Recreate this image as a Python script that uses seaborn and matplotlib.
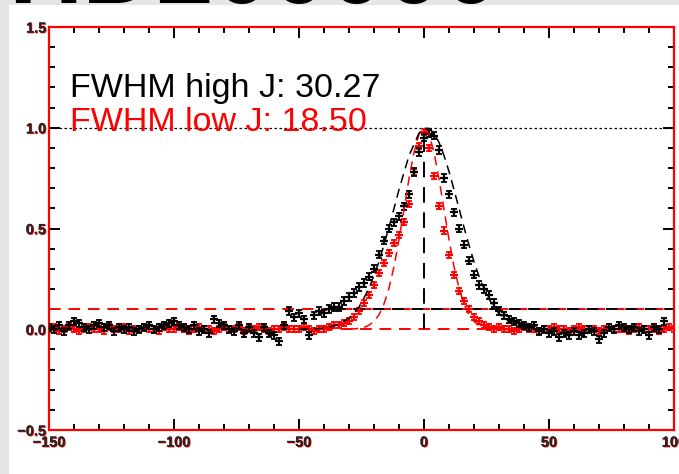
import numpy as np
import pandas as pd
import matplotlib
matplotlib.use("Agg")
import matplotlib.pyplot as plt
import matplotlib.patheffects as pe
from matplotlib.patches import Rectangle
from matplotlib.ticker import MultipleLocator
import seaborn as sns

sns.set_style("white")
plt.rcParams['font.family'] = ['Liberation Sans', 'DejaVu Sans']

# ---- data ----
high_x = list(range(-150, 98, 2))
high_y = [
    0.01, 0.00, 0.02, -0.01, 0.02, 0.04, 0.03, 0.01, 0.00, 0.02,
    0.03, 0.01, 0.02, -0.01, 0.01, 0.00, 0.01, -0.01, 0.00, 0.01,
    0.02, 0.00, 0.01, 0.02, 0.03, 0.04, 0.02, 0.01, 0.00, 0.02,
    -0.01, 0.00, -0.02, 0.05, 0.03, 0.02, 0.00, -0.01, 0.02, -0.02,
    0.01, -0.02, -0.04, 0.01, -0.02, -0.03, -0.06, 0.02, 0.09, 0.06,
    0.08, 0.05, -0.03, 0.07, 0.09, 0.08, 0.10, 0.11, 0.11, 0.14,
    0.16, 0.18, 0.21, 0.23, 0.26, 0.30, 0.37, 0.44, 0.50, 0.53,
    0.56, 0.61, 0.67, 0.78, 0.88, 0.95, 0.97, 0.96, 0.89, 0.75,
    0.67, 0.58, 0.50, 0.42, 0.34, 0.27, 0.22, 0.20, 0.17, 0.13,
    0.09, 0.07, 0.05, 0.04, 0.03, 0.02, 0.01, 0.02, -0.01, 0.00,
    -0.02, -0.01, -0.04, -0.02, -0.03, -0.01, -0.03, -0.02, 0.00, -0.01,
    -0.05, -0.02, 0.01, 0.00, 0.02, 0.01, 0.00, 0.01, -0.01, 0.00,
    -0.03, 0.01, 0.00, 0.04,
]
low_x = list(range(-150, 102, 2))
low_y = [
    0.00, 0.01, -0.01, 0.00, 0.01, 0.00, -0.01, 0.00, 0.01, 0.00,
    0.00, -0.01, 0.01, 0.00, 0.00, 0.01, -0.01, 0.00, 0.00, 0.01,
    0.00, 0.00, -0.01, 0.01, 0.00, 0.00, 0.01, 0.00, -0.01, 0.00,
    0.01, 0.00, 0.00, -0.01, 0.00, 0.01, 0.00, 0.00, 0.01, -0.01,
    0.00, 0.00, 0.01, 0.00, -0.01, 0.00, 0.00, 0.01, 0.00, 0.00,
    0.00, 0.01, 0.00, -0.01, 0.00, 0.00, 0.01, 0.02, 0.02, 0.03,
    0.04, 0.06, 0.09, 0.13, 0.17, 0.22, 0.28, 0.33, 0.38, 0.43,
    0.47, 0.53, 0.62, 0.78, 0.91, 0.98, 0.90, 0.76, 0.61, 0.49,
    0.37, 0.27, 0.19, 0.14, 0.10, 0.06, 0.04, 0.02, 0.01, 0.00,
    0.01, 0.00, 0.00, -0.01, 0.00, 0.01, 0.00, 0.00, -0.01, 0.00,
    0.00, 0.01, 0.00, 0.00, -0.01, 0.00, 0.01, 0.00, 0.00, 0.00,
    -0.01, 0.00, 0.01, 0.00, 0.00, 0.00, -0.01, 0.00, 0.01, 0.00,
    0.00, 0.00, -0.01, 0.00, 0.01, 0.00,
]
high_err = 0.018
low_err = 0.015

fit_high_x = [-50, -46, -42, -38, -34, -30, -26, -22, -18, -14, -10, -6, -2, 0, 2, 4, 6, 8,
              10, 12, 14, 16, 18, 20, 22, 24, 26, 28, 30, 34, 38, 42, 46, 50]
fit_high_y = [0.000, 0.001, 0.004, 0.010, 0.025, 0.055, 0.110, 0.202, 0.335, 0.506, 0.693,
              0.862, 0.973, 0.997, 0.997, 0.973, 0.927, 0.862, 0.783, 0.693, 0.600, 0.506,
              0.417, 0.335, 0.263, 0.202, 0.151, 0.110, 0.078, 0.037, 0.016, 0.006, 0.002, 0.001]
fit_low_x = [-30, -28, -26, -24, -22, -20, -18, -16, -14, -12, -10, -8, -6, -4, -2, 0,
             2, 4, 6, 8, 10, 12, 14, 16, 18, 20, 22, 24, 26, 28, 30]
fit_low_y = [0.001, 0.002, 0.004, 0.009, 0.020, 0.039, 0.072, 0.126, 0.204, 0.311, 0.445,
             0.595, 0.747, 0.878, 0.968, 1.000, 0.968, 0.878, 0.747, 0.595, 0.445, 0.311,
             0.204, 0.126, 0.072, 0.039, 0.020, 0.009, 0.004, 0.002, 0.001]

label_high = "FWHM high J: 30.27"
label_low = "FWHM low J: 18.50"
x_ticks = [-150, -100, -50, 0, 50, 100]
y_ticks = [-0.5, 0.0, 0.5, 1.0, 1.5]

W, H = 679, 474
fig = plt.figure(figsize=(W / 100, H / 100), dpi=100)
fig.patch.set_facecolor('#e6e6e6')
fig.patches.append(Rectangle((9 / W, 0), 1, 1 - 5 / H, transform=fig.transFigure,
                             facecolor='white', edgecolor='none', zorder=-2))
fig.text(0.012, 1 - 3 / H, "HD200000", fontsize=74, fontweight='bold', color='black',
         ha='left', va='baseline', zorder=-1)

left, right, top, bottom = 49, 674, 27, 430
ax = fig.add_axes([left / W, (H - bottom) / H, (right - left) / W, (bottom - top) / H])
ax.set_facecolor('white')
ax.set_zorder(1)

hdf = pd.DataFrame({'v': high_x, 'f': high_y})
ldf = pd.DataFrame({'v': low_x, 'f': low_y})
fhdf = pd.DataFrame({'v': fit_high_x, 'f': fit_high_y})
fldf = pd.DataFrame({'v': fit_low_x, 'f': fit_low_y})

# reference lines
ax.axhline(1.0, color='black', lw=0.9, ls=(0, (2, 2)), zorder=2)
ax.axhline(0.1, color='red', lw=1.4, ls=(0, (6, 4)), zorder=2)
ax.plot([-40, 100], [0.1, 0.1], color='black', lw=1.4, ls=(5, (6, 4)), zorder=2)
ax.axhline(0.0, color='red', lw=1.4, ls=(0, (6, 4)), zorder=2)
ax.plot([0, 0], [0.0, 0.98], color='black', lw=1.4, ls=(0, (8, 5)), zorder=2)

# low J (red)
ax.errorbar(low_x, low_y, yerr=low_err, fmt='none', ecolor='red', elinewidth=1.3,
            capsize=2.5, capthick=1.3, zorder=3)
sns.scatterplot(data=ldf, x='v', y='f', marker='+', color='red', s=40, linewidth=1.6,
                ax=ax, zorder=3, legend=False)
# high J (black)
ax.errorbar(high_x, high_y, yerr=high_err, fmt='none', ecolor='black', elinewidth=1.3,
            capsize=2.5, capthick=1.3, zorder=4)
sns.scatterplot(data=hdf, x='v', y='f', marker='+', color='black', s=40, linewidth=1.6,
                ax=ax, zorder=4, legend=False)
# fits
sns.lineplot(data=fldf, x='v', y='f', color='red', lw=1.1, ax=ax, zorder=5,
             linestyle=(0, (6, 4)))
sns.lineplot(data=fhdf, x='v', y='f', color='black', lw=1.1, ax=ax, zorder=5,
             linestyle=(0, (6, 4)))

ax.set_xlim(-150, 100)
ax.set_ylim(-0.5, 1.5)
ax.set_xlabel('')
ax.set_ylabel('')
ax.set_xticks(x_ticks)
ax.set_yticks(y_ticks)
ax.set_xticklabels(["\u2212150", "\u2212100", "\u221250", "0", "50", "100"])
ax.set_yticklabels(["\u22120.5", "0.0", "0.5", "1.0", "1.5"])
ax.xaxis.set_minor_locator(MultipleLocator(10))
ax.yaxis.set_minor_locator(MultipleLocator(0.1))
ax.tick_params(which='both', direction='in', top=True, right=True, bottom=True, left=True,
               color='black', width=1.4)
ax.tick_params(which='major', length=8, labelsize=10.5, pad=4)
ax.tick_params(which='minor', length=4)
ax.tick_params(axis='y', which='major', pad=2)
shadow = [pe.withSimplePatchShadow(offset=(0.6, -0.6), shadow_rgbFace='red', alpha=1.0),
          pe.Normal()]
for lab in ax.get_xticklabels() + ax.get_yticklabels():
    lab.set_fontweight('bold')
    lab.set_path_effects(shadow)
for s in ax.spines.values():
    s.set_color('red')
    s.set_linewidth(1.6)
    s.set_visible(True)

ax.text(-141.5, 1.153, label_high, color='black', fontsize=24.5, ha='left', va='baseline', zorder=6)
ax.text(-141.5, 0.985, label_low, color='red', fontsize=24.5, ha='left', va='baseline', zorder=6)

fig.savefig('out.png', dpi=100)
